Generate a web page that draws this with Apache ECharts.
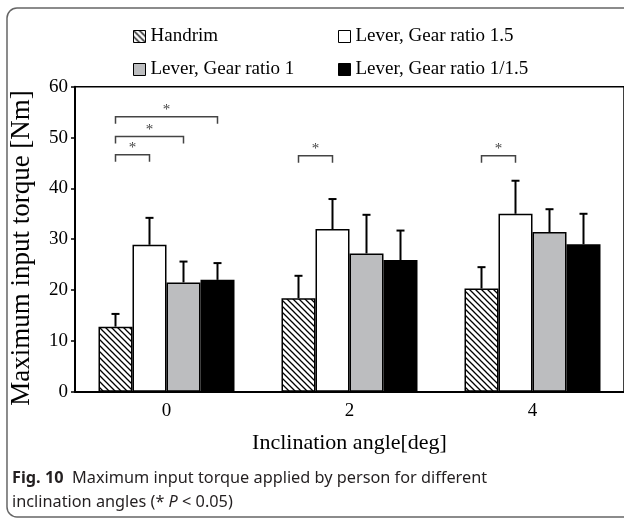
<!DOCTYPE html>
<html>
<head>
<meta charset="utf-8">
<script src="https://cdn.jsdelivr.net/npm/echarts@6/dist/echarts.min.js"></script>
<style>
html, body { margin: 0; padding: 0; background: #fff; }
#chart { width: 624px; height: 520px; }
</style>
</head>
<body>
<div id="chart"></div>
<script>
var angles = ['0', '2', '4'];
var seriesNames = ['Handrim', 'Lever, Gear ratio 1.5', 'Lever, Gear ratio 1', 'Lever, Gear ratio 1/1.5'];
var handrim = [12.8, 18.4, 20.3];
var lever15 = [28.9, 32.0, 35.0];
var lever1 = [21.5, 27.2, 31.4];
var lever115 = [22.0, 25.9, 29.0];
var handrimSd = [2.5, 4.4, 4.2];
var lever15Sd = [5.3, 5.9, 6.5];
var lever1Sd = [4.1, 7.6, 4.5];
var lever115Sd = [3.3, 5.8, 6.0];
// significance brackets (* P < 0.05): angle index, from bar, to bar, height
var sigAngle = [0, 0, 0, 1, 2];
var sigFrom = [0, 0, 0, 0, 0];
var sigTo = [1, 2, 3, 1, 1];
var sigY = [46.6, 50.2, 54.1, 46.4, 46.4];

var barW = 34;
var serif = 'Liberation Serif';

// hatch fill for the handrim bars
var hatch = document.createElement('canvas');
hatch.width = 6; hatch.height = 6;
var ctx = hatch.getContext('2d');
ctx.fillStyle = '#fff';
ctx.fillRect(0, 0, 6, 6);
ctx.strokeStyle = '#000';
ctx.lineWidth = 1.3;
ctx.beginPath();
ctx.moveTo(-1, -1); ctx.lineTo(7, 7);
ctx.moveTo(-4, 2); ctx.lineTo(4, 10);
ctx.moveTo(2, -4); ctx.lineTo(10, 4);
ctx.stroke();

var fills = [{ image: hatch, repeat: 'repeat' }, '#ffffff', '#bcbdbf', '#000000'];
var values = [handrim, lever15, lever1, lever115];
var sds = [handrimSd, lever15Sd, lever1Sd, lever115Sd];

var barSeries = function (i) {
    return {
        name: seriesNames[i],
        type: 'bar',
        data: values[i],
        barWidth: barW,
        barGap: '0%',
        itemStyle: { color: fills[i], borderColor: '#000', borderWidth: 1.5 },
        emphasis: { disabled: true }
    };
};

var errorSeries = function (i) {
    return {
        type: 'custom',
        silent: true,
        z: 5,
        data: values[i].map(function (v, k) { return [k, v, v + sds[i][k]]; }),
        renderItem: function (params, api) {
            var p0 = api.coord([api.value(0), api.value(1)]);
            var p1 = api.coord([api.value(0), api.value(2)]);
            var x = p0[0] + (i - 1.5) * barW;
            return {
                type: 'group',
                children: [
                    { type: 'line', shape: { x1: x, y1: p0[1], x2: x, y2: p1[1] }, style: { stroke: '#000', lineWidth: 2 } },
                    { type: 'line', shape: { x1: x - 4, y1: p1[1], x2: x + 4, y2: p1[1] }, style: { stroke: '#000', lineWidth: 2 } }
                ]
            };
        }
    };
};

var sigData = sigAngle.map(function (a, k) { return [a, sigFrom[k], sigTo[k], sigY[k]]; });

var series = [];
for (var i = 0; i < 4; i++) series.push(barSeries(i));
for (var j = 0; j < 4; j++) series.push(errorSeries(j));
series.push({
    type: 'custom',
    silent: true,
    z: 5,
    data: sigData,
    renderItem: function (params, api) {
        var p = api.coord([api.value(0), api.value(3)]);
        var x1 = p[0] + (api.value(1) - 1.5) * barW;
        var x2 = p[0] + (api.value(2) - 1.5) * barW;
        var y = p[1];
        var st = { stroke: '#444', lineWidth: 1.5, fill: null };
        return {
            type: 'group',
            children: [
                { type: 'polyline', shape: { points: [[x1, y + 7], [x1, y], [x2, y], [x2, y + 7]] }, style: st },
                { type: 'text', style: { text: '*', x: (x1 + x2) / 2, y: y + 1, align: 'center', verticalAlign: 'bottom', font: '15px "Liberation Serif"', fill: '#444' } }
            ]
        };
    }
});

var legendBase = {
    itemWidth: 12,
    itemHeight: 12,
    icon: 'rect',
    selectedMode: false,
    textStyle: { fontFamily: serif, fontSize: 19, color: '#000' },
    itemStyle: { borderColor: '#000', borderWidth: 1 }
};
var legendPos = [[128, 22], [333, 22], [128, 55], [333, 55]];
var legends = legendPos.map(function (p, k) {
    return Object.assign({}, legendBase, { data: [seriesNames[k]], left: p[0], top: p[1] });
});

var myCharts = echarts.init(document.getElementById('chart'));
var option = {
    animation: false,
    legend: legends,
    grid: { left: 75, top: 86.7, width: 552, height: 305, show: true, borderColor: '#000', borderWidth: 1.5 },
    xAxis: {
        type: 'category',
        data: angles,
        name: 'Inclination angle[deg]',
        nameLocation: 'middle',
        nameGap: 41,
        nameTextStyle: { fontFamily: serif, fontSize: 22, color: '#000' },
        axisLine: { lineStyle: { color: '#000', width: 2 } },
        axisTick: { show: false },
        axisLabel: { fontFamily: serif, fontSize: 19, color: '#000', margin: 10 }
    },
    yAxis: {
        type: 'value',
        min: 0,
        max: 60,
        interval: 10,
        axisLine: { show: true, lineStyle: { color: '#000', width: 2 } },
        axisTick: { show: true, length: 4, lineStyle: { color: '#000', width: 1.5 } },
        splitLine: { show: false },
        axisLabel: { fontFamily: serif, fontSize: 19, color: '#000', margin: 7 }
    },
    graphic: [
        { type: 'rect', shape: { x: 7, y: 8, width: 700, height: 509, r: 10 }, style: { fill: null, stroke: '#666', lineWidth: 1.5 }, silent: true },
        { type: 'text', x: 22, y: 248, rotation: Math.PI / 2, style: { text: 'Maximum input torque [Nm]', font: '27px "Liberation Serif"', fill: '#000', align: 'center', verticalAlign: 'middle' } },
        {
            type: 'text', left: 12, top: 467,
            style: {
                text: '{b|Fig. 10}  Maximum input torque applied by person for different\ninclination angles (* {i|P} < 0.05)',
                font: '16.3px "Noto Sans"',
                fill: '#231f20',
                lineHeight: 23.5,
                rich: {
                    b: { fontWeight: 'bold', fontFamily: 'Noto Sans', fontSize: 16.3, fill: '#231f20' },
                    i: { fontStyle: 'italic', fontFamily: 'Noto Sans', fontSize: 16.3, fill: '#231f20' }
                }
            }
        }
    ],
    series: series
};
myCharts.setOption(option);
</script>
</body>
</html>
